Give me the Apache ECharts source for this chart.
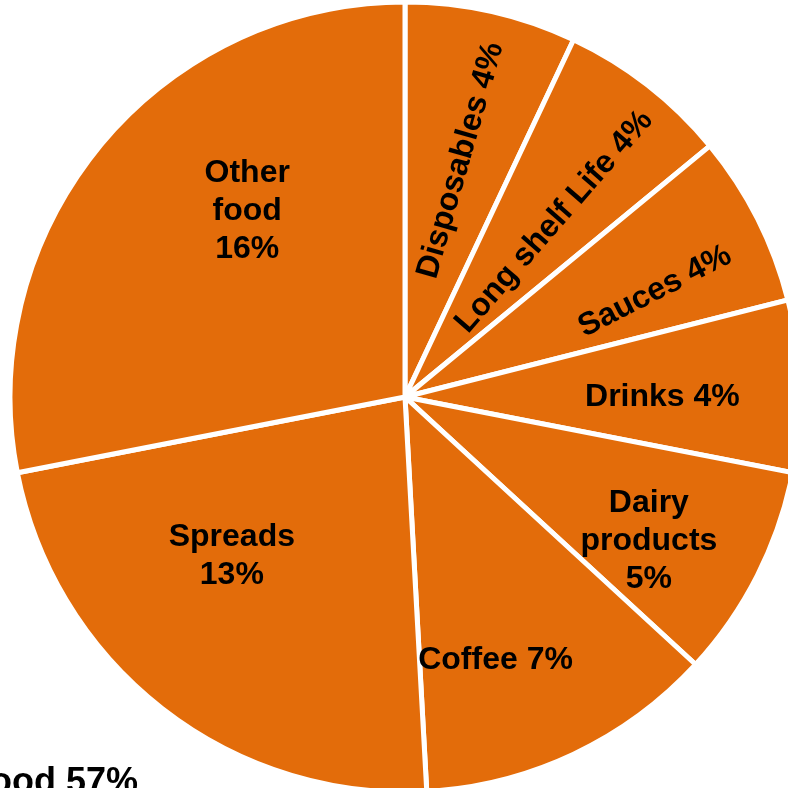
<!DOCTYPE html>
<html>
<head>
<meta charset="utf-8">
<script src="https://cdn.jsdelivr.net/npm/echarts@6/dist/echarts.min.js"></script>
<style>
  html, body { margin: 0; padding: 0; background: #ffffff; }
  #chart { width: 788px; height: 788px; }
</style>
</head>
<body>
<div id="chart"></div>
<script>
// Product categories, clockwise from 12 o'clock
const categories = ['Disposables', 'Long shelf Life', 'Sauces', 'Drinks', 'Dairy products', 'Coffee', 'Spreads', 'Other food'];
// Share of sales (%)
const shares = [4, 4, 4, 4, 5, 7, 13, 16];
// Total shown below the pie
const totalLabel = 'Food 57%';

// Label layout: stacked (multi-line) labels, rotation (deg, counter-clockwise),
// and a screen-space nudge away from the default in-slice position
const stacked = [false, false, false, false, true, false, true, true];
const labelRotate = [74, 49, 27, 0, 0, 0, 0, 0];
const labelNudge = [[12, -41], [26, -17], [71, -15], [57, 6], [65, 54], [5, 82], [-50, 1], [-3, -58]];

const ORANGE = '#E36C0A';

const chart = echarts.init(document.getElementById('chart'), null, { renderer: 'canvas' });

const pieData = categories.map((name, i) => ({
  name: name,
  value: shares[i],
  label: { rotate: labelRotate[i] }
}));

chart.setOption({
  animation: false,
  backgroundColor: '#ffffff',
  series: [{
    type: 'pie',
    center: [405, 397],
    radius: [0, 395],
    startAngle: 90,
    clockwise: true,
    data: pieData,
    itemStyle: {
      color: ORANGE,
      borderColor: '#ffffff',
      borderWidth: 5
    },
    label: {
      show: true,
      position: 'inside',
      color: '#000000',
      fontFamily: '"Liberation Sans", Arial, sans-serif',
      fontWeight: 'bold',
      fontSize: 32,
      lineHeight: 38,
      align: 'center',
      formatter: function (p) {
        const i = p.dataIndex;
        if (stacked[i]) {
          return p.name.split(' ').join('\n') + '\n' + p.value + '%';
        }
        return p.name + ' ' + p.value + '%';
      }
    },
    // dx/dy are applied in the label's rotated frame, so turn the
    // screen-space nudge back by the label's rotation first
    labelLayout: function (p) {
      const i = p.dataIndex;
      const n = labelNudge[i];
      const a = labelRotate[i] * Math.PI / 180;
      const c = Math.cos(a), s = Math.sin(a);
      return { dx: n[0] * c - n[1] * s, dy: n[0] * s + n[1] * c };
    },
    labelLine: { show: false },
    emphasis: { disabled: true }
  }],
  graphic: [{
    type: 'text',
    right: 788 - 138,
    top: 765,
    style: {
      text: totalLabel,
      fill: '#000000',
      font: 'bold 36px "Liberation Sans", Arial, sans-serif',
      textAlign: 'right'
    }
  }]
});
</script>
</body>
</html>
